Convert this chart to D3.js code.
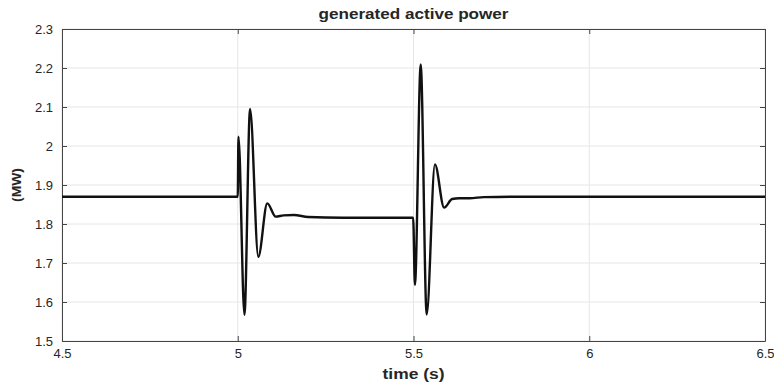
<!DOCTYPE html>
<html>
<head>
<meta charset="utf-8">
<script src="https://cdn.jsdelivr.net/npm/d3@7"></script>
<style>
  body { margin: 0; background: #fff; }
  text { font-family: "Liberation Sans", Arial, sans-serif; }
</style>
</head>
<body>
<div class="chart"></div>
<script>
// time (s) and generated active power (MW)
var time = [4.5, 5.0, 5.002, 5.019, 5.035, 5.0585, 5.084, 5.108, 5.13, 5.16, 5.2, 5.3, 5.4, 5.499,
	5.504, 5.5205, 5.5375, 5.561, 5.587, 5.61, 5.63, 5.66, 5.7, 5.8, 6.0, 6.5];
var power = [1.87, 1.87, 2.024, 1.567, 2.095, 1.716, 1.853, 1.819, 1.822, 1.823, 1.818, 1.816, 1.816, 1.816,
	1.644, 2.209, 1.568, 1.953, 1.842, 1.864, 1.866, 1.866, 1.869, 1.87, 1.87, 1.87];
var xTicks = [4.5, 5, 5.5, 6, 6.5];
var yTicks = [1.5, 1.6, 1.7, 1.8, 1.9, 2, 2.1, 2.2, 2.3];

var w = 774, h = 385;
var pLeft = 62, pRight = 765, pTop = 29, pBottom = 341;

var svg = d3.select('.chart').append('svg')
	.attr('width', w)
	.attr('height', h);

var x = d3.scaleLinear().domain([4.5, 6.5]).range([pLeft, pRight]);
var y = d3.scaleLinear().domain([1.5, 2.3]).range([pBottom, pTop]);

/*---------------------------GRID--------------------------*/

svg.append('g').selectAll('line').data(xTicks).enter()
	.append('line')
	.attr('x1', function(d){ return x(d); })
	.attr('x2', function(d){ return x(d); })
	.attr('y1', pTop).attr('y2', pBottom)
	.style('stroke', '#e6e6e6').style('stroke-width', 1);

svg.append('g').selectAll('line').data(yTicks).enter()
	.append('line')
	.attr('y1', function(d){ return y(d); })
	.attr('y2', function(d){ return y(d); })
	.attr('x1', pLeft).attr('x2', pRight)
	.style('stroke', '#e6e6e6').style('stroke-width', 1);

/*---------------------------AXES--------------------------*/

var fmt = function(d){ return d3.format('~g')(d); };

var xAxis = svg.append('g')
	.attr('transform', 'translate(0,' + pBottom + ')')
	.call(d3.axisBottom(x).tickValues(xTicks).tickFormat(fmt).tickSizeInner(-5).tickSizeOuter(0).tickPadding(8));
var yAxis = svg.append('g')
	.attr('transform', 'translate(' + pLeft + ',0)')
	.call(d3.axisLeft(y).tickValues(yTicks).tickFormat(fmt).tickSizeInner(-5).tickSizeOuter(0).tickPadding(9));
var xTop = svg.append('g')
	.attr('transform', 'translate(0,' + pTop + ')')
	.call(d3.axisTop(x).tickValues(xTicks).tickFormat('').tickSizeInner(-5).tickSizeOuter(0));
var yRight = svg.append('g')
	.attr('transform', 'translate(' + pRight + ',0)')
	.call(d3.axisRight(y).tickValues(yTicks).tickFormat('').tickSizeInner(-5).tickSizeOuter(0));

[xAxis, yAxis, xTop, yRight].forEach(function(a){
	a.selectAll('path, line').style('stroke', '#444').style('stroke-width', 1);
	a.selectAll('text').style('font-size', '13px').style('fill', '#262626')
		.style('font-family', '"Liberation Sans", Arial, sans-serif');
});

/*---------------------------LINE--------------------------*/

var line = d3.line()
	.x(function(d){ return x(d[0]); })
	.y(function(d){ return y(d[1]); })
	.curve(d3.curveMonotoneX);

svg.append('path')
	.datum(d3.zip(time, power))
	.attr('d', line)
	.style('fill', 'none')
	.style('stroke', '#111')
	.style('stroke-width', 2.4)
	.style('stroke-linejoin', 'round');

/*---------------------------LABELS--------------------------*/

svg.append('text')
	.attr('x', (pLeft + pRight) / 2).attr('y', 19)
	.attr('text-anchor', 'middle')
	.attr('textLength', 190).attr('lengthAdjust', 'spacingAndGlyphs')
	.style('font-size', '14px').style('font-weight', 'bold').style('fill', '#262626')
	.text('generated active power');

svg.append('text')
	.attr('x', (pLeft + pRight) / 2).attr('y', 379)
	.attr('text-anchor', 'middle')
	.attr('textLength', 62).attr('lengthAdjust', 'spacingAndGlyphs')
	.style('font-size', '14px').style('font-weight', 'bold').style('fill', '#262626')
	.text('time (s)');

svg.append('text')
	.attr('transform', 'translate(21,185) rotate(-90)')
	.attr('text-anchor', 'middle')
	.attr('textLength', 34).attr('lengthAdjust', 'spacingAndGlyphs')
	.style('font-size', '12px').style('font-weight', 'bold').style('fill', '#262626')
	.text('(MW)');
</script>
</body>
</html>
